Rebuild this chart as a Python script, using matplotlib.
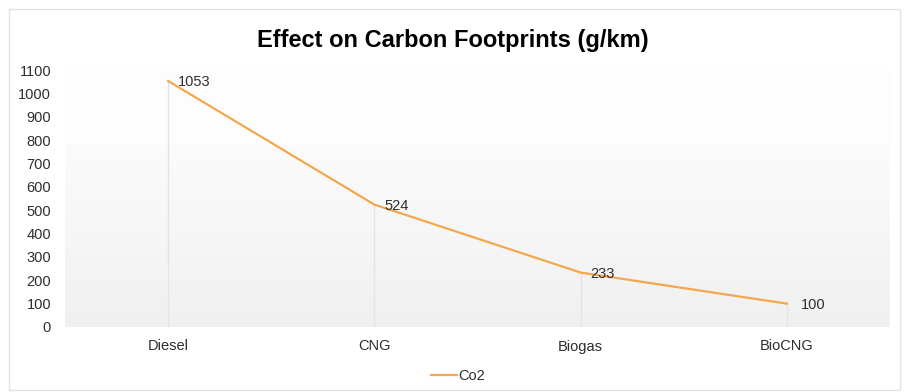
import matplotlib
matplotlib.use("Agg")
import matplotlib.pyplot as plt
import numpy as np
from matplotlib.colors import LinearSegmentedColormap
from matplotlib.patches import Rectangle
from matplotlib.lines import Line2D

plt.rcParams['font.family'] = ['Liberation Sans', 'DejaVu Sans']

# Emissions per fuel type
categories = ["Diesel", "CNG", "Biogas", "BioCNG"]
co2 = [1053, 524, 233, 100]
y_ticks = [0, 100, 200, 300, 400, 500, 600, 700, 800, 900, 1000, 1100]

line_color = "#f4a74c"
text_color = "#2e2e2e"

fig = plt.figure(figsize=(9.06, 3.92), dpi=100)
fig.patch.set_facecolor("white")

# light frame around the whole chart
fig.add_artist(Rectangle((9 / 906, 2 / 392), 891 / 906, 381 / 392,
                         transform=fig.transFigure, fill=False,
                         edgecolor="#e2e2e2", linewidth=1.0))

ax = fig.add_axes([65 / 906, (392 - 327) / 392, (890 - 65) / 906, (327 - 70) / 392])
ax.set_facecolor("#fdfdfd")

x = np.arange(len(categories))
ax.set_xlim(-0.5, len(categories) - 0.5)
ax.set_ylim(0, 1100)

# soft gray gradient in the lower part of the plot area
grad = np.linspace(0, 1, 256).reshape(-1, 1)
cmap = LinearSegmentedColormap.from_list("bg", ["#f0f0f0", "#f6f6f6", "#fbfbfb"])
ax.imshow(grad, cmap=cmap, origin="lower", aspect="auto",
          extent=(-0.5, len(categories) - 0.5, 0, 775), zorder=0)

# faint drop lines from each point
ax.vlines(x, 0, co2, colors="#e4e4e4", linewidth=1.0, zorder=1)

ax.plot(x, co2, color=line_color, linewidth=1.6, zorder=3, label="Co2")

for xi, v in zip(x, co2):
    off = 10 if v == co2[-1] else 7
    ax.annotate(f"{v}", (xi, v), xytext=(off, -1), textcoords="offset points",
                ha="left", va="center", fontsize=10.5, color=text_color, zorder=4)

ax.set_xticks(x)
ax.set_xticklabels(categories)
ax.set_yticks(y_ticks)
ax.tick_params(axis="both", length=0, labelsize=10.5, colors=text_color)
ax.tick_params(axis="y", pad=10)
ax.tick_params(axis="x", pad=9)
for s in ax.spines.values():
    s.set_visible(False)

fig.text(453 / 906, 1 - 40 / 392, "Effect on Carbon Footprints (g/km)",
         ha="center", va="center", fontsize=17, fontweight="bold", color="black")

handle = Line2D([], [], color=line_color, linewidth=1.6)
fig.legend([handle], ["Co2"], loc="center", bbox_to_anchor=(458 / 906, 1 - 376 / 392),
           frameon=False, fontsize=10.5, handlelength=1.8, handletextpad=0.1,
           labelcolor=text_color)

fig.savefig("out.png", dpi=100)
